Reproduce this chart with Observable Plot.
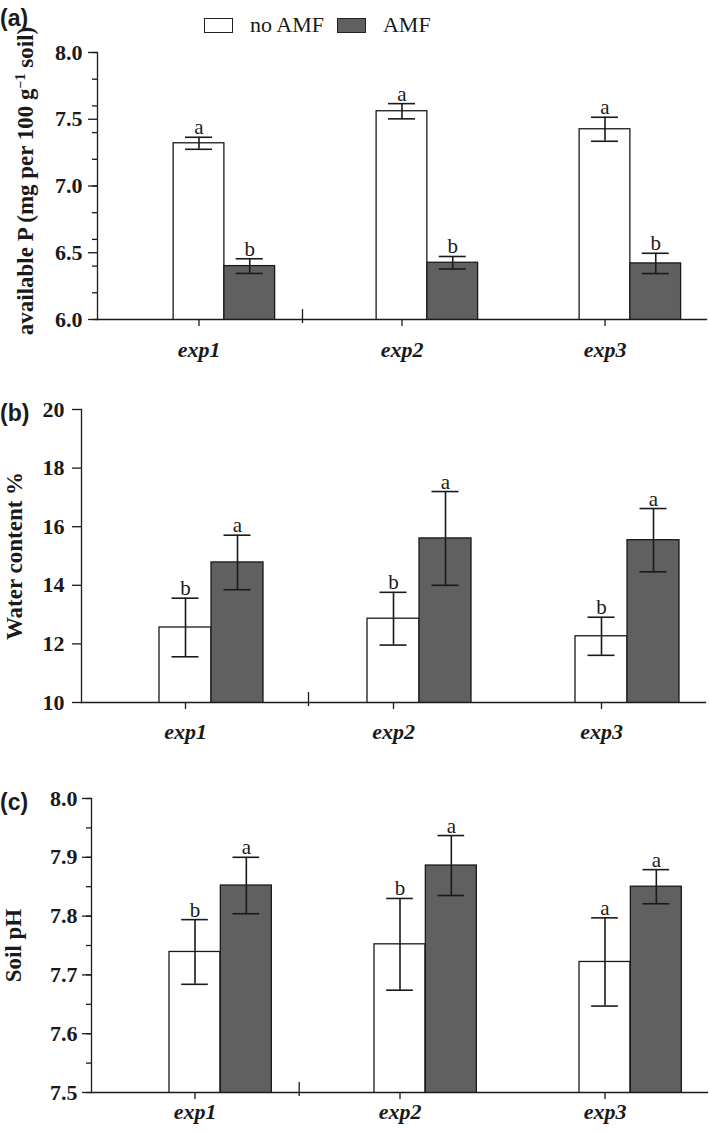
<!DOCTYPE html>
<html><head><meta charset="utf-8">
<script src="https://cdn.jsdelivr.net/npm/d3@7"></script>
<script src="https://cdn.jsdelivr.net/npm/@observablehq/plot@0.6"></script>
<style>
body{margin:0;background:#fff;}
#wrap{position:relative;width:709px;height:1133px;overflow:hidden;font-family:"Liberation Serif","Times New Roman",serif;color:#1a1a1a;}
#wrap svg text{font-family:"Liberation Serif","Times New Roman",serif;}
.panel{position:absolute;left:0;}
.plabel{position:absolute;left:0;font-family:"Liberation Sans",Arial,sans-serif;font-weight:bold;font-size:23px;line-height:1;}
.legend{position:absolute;top:12px;left:204px;display:flex;align-items:center;font-size:22px;}
.sw{display:inline-block;width:27px;height:13px;border:1.5px solid #222;box-sizing:content-box;}
</style></head><body><div id="wrap"></div>
<script>
// ---------- data ----------
const experiments = ["exp1", "exp2", "exp3"];
const treatments = ["no AMF", "AMF"];

// (a) available P (mg per 100 g-1 soil)
const availP_noAMF = [7.32, 7.56, 7.425];
const availP_noAMF_err = [0.045, 0.057, 0.09];
const availP_AMF = [6.40, 6.425, 6.42];
const availP_AMF_err = [0.055, 0.047, 0.076];
const availP_letters_noAMF = ["a", "a", "a"];
const availP_letters_AMF = ["b", "b", "b"];

// (b) Water content %
const water_noAMF = [12.56, 12.86, 12.26];
const water_noAMF_err = [1.0, 0.9, 0.65];
const water_AMF = [14.78, 15.6, 15.54];
const water_AMF_err = [0.93, 1.6, 1.08];
const water_letters_noAMF = ["b", "b", "b"];
const water_letters_AMF = ["a", "a", "a"];

// (c) Soil pH
const pH_noAMF = [7.739, 7.752, 7.722];
const pH_noAMF_err = [0.055, 0.078, 0.075];
const pH_AMF = [7.852, 7.886, 7.850];
const pH_AMF_err = [0.048, 0.051, 0.029];
const pH_letters_noAMF = ["b", "b", "a"];
const pH_letters_AMF = ["a", "a", "a"];

// ---------- layout ----------
const W = 709;
const SERIF = '"Liberation Serif","Times New Roman",serif';
const wrap = document.getElementById("wrap");

function makePanel(cfg) {
  const rows = experiments.flatMap((e, i) => [
    {exp: e, trt: treatments[0], v: cfg.no[i], err: cfg.noErr[i], L: cfg.noL[i]},
    {exp: e, trt: treatments[1], v: cfg.amf[i], err: cfg.amfErr[i], L: cfg.amfL[i]}
  ]);
  const white = rows.filter(d => d.trt === "no AMF");
  const dark = rows.filter(d => d.trt === "AMF");
  const step = (W - cfg.ml - cfg.mr) / experiments.length;
  const sh = step / 4;
  const cap = (step - 27) / 2;
  const ink = "#1a1a1a";
  const [y0] = cfg.domain;

  const marks = [
    Plot.barY(white, {x: "exp", y: "v", fill: "#fff", stroke: ink, strokeWidth: 1.3, insetLeft: 3 * step / 8, insetRight: 3 * step / 8, clip: true}),
    Plot.barY(dark, {x: "exp", y: "v", fill: "#606060", stroke: ink, strokeWidth: 1.3, insetLeft: 5 * step / 8, insetRight: step / 8, clip: true}),
    Plot.ruleX(white, {x: "exp", y1: d => d.v - d.err, y2: d => d.v + d.err, stroke: ink, strokeWidth: 1.6}),
    Plot.ruleX(dark, {x: "exp", y1: d => d.v - d.err, y2: d => d.v + d.err, stroke: ink, strokeWidth: 1.6, dx: sh}),
    Plot.tickY(white, {x: "exp", y: d => d.v + d.err, stroke: ink, strokeWidth: 1.6, insetLeft: cap, insetRight: cap}),
    Plot.tickY(white, {x: "exp", y: d => d.v - d.err, stroke: ink, strokeWidth: 1.6, insetLeft: cap, insetRight: cap}),
    Plot.tickY(dark, {x: "exp", y: d => d.v + d.err, stroke: ink, strokeWidth: 1.6, insetLeft: cap, insetRight: cap, dx: sh}),
    Plot.tickY(dark, {x: "exp", y: d => d.v - d.err, stroke: ink, strokeWidth: 1.6, insetLeft: cap, insetRight: cap, dx: sh}),
    Plot.text(white, {x: "exp", y: d => d.v + d.err, text: "L", lineAnchor: "bottom", dy: -3, fontSize: 21, fill: ink, fontFamily: SERIF}),
    Plot.text(dark, {x: "exp", y: d => d.v + d.err, text: "L", lineAnchor: "bottom", dy: -3, dx: sh, fontSize: 21, fill: ink, fontFamily: SERIF}),
    Plot.frame({anchor: "left", stroke: ink, strokeWidth: 1.3}),
    Plot.frame({anchor: "bottom", stroke: ink, strokeWidth: 1.3}),
    Plot.axisY(cfg.ticks, {tickSize: 9, tickPadding: cfg.tpad, tickFormat: cfg.fmt, fontWeight: "bold", fontSize: 22, fontFamily: SERIF, fontVariant: "normal", label: null, strokeWidth: 1.3}),
    Plot.axisX({tickSize: 7, tickPadding: cfg.xpad, fontWeight: "bold", fontStyle: "italic", fontSize: 22, fontFamily: SERIF, label: null, strokeWidth: 1.3}),
    Plot.ruleX([experiments[0]], {x: d => d, y1: y0, y2: y0, dx: step / 2 + cfg.sepOff, insetTop: 4, insetBottom: 10, stroke: ink, strokeWidth: 1.3}),
    Plot.text([cfg.title], {frameAnchor: "left", textAnchor: "middle", text: d => d, rotate: -90, lineAnchor: "top", dx: cfg.titleDx, dy: cfg.titleDy, fontSize: 23, fontWeight: "bold", fill: ink, fontFamily: SERIF})
  ];
  if (cfg.minor) marks.push(Plot.axisY(cfg.minor, {tickSize: 5, tickFormat: () => "", label: null, strokeWidth: 1.3}));

  const svg = Plot.plot({
    width: W, height: cfg.height,
    marginLeft: cfg.ml, marginRight: cfg.mr, marginTop: cfg.mt, marginBottom: cfg.mb,
    x: {domain: experiments, padding: 0},
    y: {domain: cfg.domain},
    style: {fontFamily: SERIF, fontSize: "21px", color: ink, background: "transparent", overflow: "visible"},
    marks
  });
  const div = document.createElement("div");
  div.className = "panel";
  div.style.top = cfg.top + "px";
  div.appendChild(svg);
  wrap.appendChild(div);

  const lab = document.createElement("div");
  lab.className = "plabel";
  lab.style.top = cfg.labTop + "px";
  lab.textContent = cfg.letter;
  wrap.appendChild(lab);
  return svg;
}

const svgA = makePanel({
  top: 0, height: 360, ml: 97, mr: 3, mt: 52, mb: 41,
  domain: [6, 8], ticks: d3.ticks(6, 8, 4), minor: d3.ticks(6, 8, 8), fmt: d3.format(".1f"),
  tpad: 6, xpad: 15, sepOff: 2, titleDx: -81, titleDy: -5,
  title: "available P (mg per 100 g−1 soil)",
  no: availP_noAMF, noErr: availP_noAMF_err, amf: availP_AMF, amfErr: availP_AMF_err,
  noL: availP_letters_noAMF, amfL: availP_letters_AMF, letter: "(a)", labTop: 7
});
makePanel({
  top: 370, height: 390, ml: 81, mr: 4, mt: 39, mb: 58,
  domain: [10, 20], ticks: d3.ticks(10, 20, 5), minor: null, fmt: d3.format("d"),
  tpad: 8, xpad: 14, sepOff: 19, titleDx: -76, titleDy: 0,
  title: "Water content %",
  no: water_noAMF, noErr: water_noAMF_err, amf: water_AMF, amfErr: water_AMF_err,
  noL: water_letters_noAMF, amfL: water_letters_AMF, letter: "(b)", labTop: 402
});
makePanel({
  top: 760, height: 373, ml: 91, mr: 2, mt: 38, mb: 41,
  domain: [7.5, 8.0], ticks: d3.ticks(7.5, 8, 5), minor: d3.ticks(7.5, 8, 10), fmt: d3.format(".1f"),
  tpad: 5, xpad: 4, sepOff: 1.5, titleDx: -87, titleDy: 0,
  title: "Soil pH",
  no: pH_noAMF, noErr: pH_noAMF_err, amf: pH_AMF, amfErr: pH_AMF_err,
  noL: pH_letters_noAMF, amfL: pH_letters_AMF, letter: "(c)", labTop: 791
});

// superscript in panel (a) title
svgA.querySelectorAll("text").forEach(t => {
  if (t.textContent === "available P (mg per 100 g−1 soil)") {
    const ns = "http://www.w3.org/2000/svg";
    t.textContent = "";
    const a = document.createElementNS(ns, "tspan"); a.textContent = "available P (mg per 100 g";
    const b = document.createElementNS(ns, "tspan"); b.textContent = "−1"; b.setAttribute("dy", "-8"); b.setAttribute("font-size", "14");
    const c = document.createElementNS(ns, "tspan"); c.textContent = " soil)"; c.setAttribute("dy", "8");
    t.append(a, b, c);
  }
});

// legend
const leg = document.createElement("div");
leg.className = "legend";
const legendFills = ["#fff", "#606060"];
treatments.forEach((t, i) => {
  const s = document.createElement("span"); s.className = "sw"; s.style.background = legendFills[i];
  s.style.marginRight = "17px"; if (i > 0) s.style.marginLeft = "13px";
  const l = document.createElement("span"); l.textContent = t;
  leg.append(s, l);
});
wrap.appendChild(leg);
</script></body></html>
